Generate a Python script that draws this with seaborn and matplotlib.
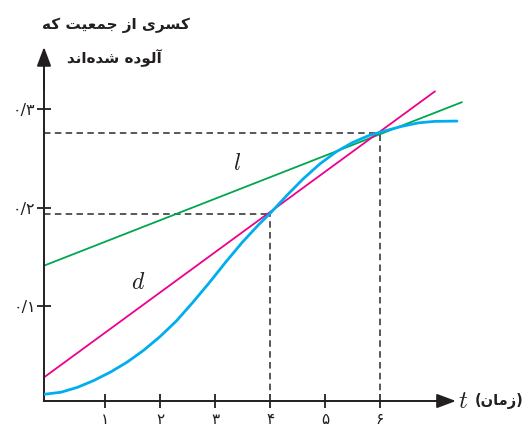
import matplotlib
matplotlib.use("Agg")
import matplotlib.pyplot as plt
import seaborn as sns
import pandas as pd
import numpy as np

# =====================================================
# DATA
# =====================================================
# blue curve: fraction of infected population over time
curve_t = [-0.11, 0.2, 0.5, 0.8, 1.1, 1.4, 1.7, 2.0, 2.3, 2.6, 2.9, 3.2, 3.5,
           3.8, 4.0, 4.3, 4.6, 4.9, 5.2, 5.5, 5.8, 6.1, 6.4, 6.7, 7.0, 7.4]
curve_v = [0.0104, 0.0125, 0.0175, 0.0245, 0.033, 0.043, 0.055, 0.069, 0.085,
           0.104, 0.124, 0.145, 0.165, 0.183, 0.194, 0.212, 0.229, 0.244,
           0.2565, 0.266, 0.2732, 0.278, 0.2825, 0.286, 0.2875, 0.2878]

# line d (pink) and line l (green), two end points each
d_t = [-0.11, 7.0]
d_v = [0.0276, 0.318]
l_t = [-0.11, 7.49]
l_v = [0.141, 0.307]

# guide points (dashed)
guide_t = [4, 6]
guide_v = [0.1934, 0.2756]

x_ticks = [1, 2, 3, 4, 5, 6]
x_ticklabels = ['۱', '۲', '۳', '۴', '۵', '۶']
y_ticks = [0.1, 0.2, 0.3]
y_ticklabels = ['۰/۱', '۰/۲', '۰/۳']

ylabel_lines = ['کسری از جمعیت که', 'آلوده شده\u200cاند']
xlabel_fa = '(زمان)'

# =====================================================
# minimal Persian shaping (matplotlib has no RTL / joining)
# =====================================================
FORMS = {
    'ا': ('\ufe8d', '\ufe8e', None, None),
    'آ': ('\ufe81', '\ufe82', None, None),
    'د': ('\ufea9', '\ufeaa', None, None),
    'ر': ('\ufead', '\ufeae', None, None),
    'ز': ('\ufeaf', '\ufeb0', None, None),
    'و': ('\ufeed', '\ufeee', None, None),
    'ت': ('\ufe95', '\ufe96', '\ufe97', '\ufe98'),
    'ج': ('\ufe9d', '\ufe9e', '\ufe9f', '\ufea0'),
    'س': ('\ufeb1', '\ufeb2', '\ufeb3', '\ufeb4'),
    'ش': ('\ufeb5', '\ufeb6', '\ufeb7', '\ufeb8'),
    'ع': ('\ufec9', '\ufeca', '\ufecb', '\ufecc'),
    'ل': ('\ufedd', '\ufede', '\ufedf', '\ufee0'),
    'م': ('\ufee1', '\ufee2', '\ufee3', '\ufee4'),
    'ن': ('\ufee5', '\ufee6', '\ufee7', '\ufee8'),
    'ه': ('\ufee9', '\ufeea', '\ufeeb', '\ufeec'),
    'ک': ('\ufb8e', '\ufb8f', '\ufb90', '\ufb91'),
    'ی': ('\ufbfc', '\ufbfd', '\ufbfe', '\ufbff'),
}


def shape_fa(text):
    text = text.replace('ك', 'ک').replace('ي', 'ی')
    out = []
    for i, ch in enumerate(text):
        if ch not in FORMS:
            if ch != '\u200c':
                out.append(ch)
            continue
        prev = text[i - 1] if i > 0 else ''
        nxt = text[i + 1] if i + 1 < len(text) else ''
        join_prev = prev in FORMS and FORMS[prev][2] is not None
        join_next = FORMS[ch][2] is not None and nxt in FORMS
        isol, fina, init, medi = FORMS[ch]
        if join_prev and join_next:
            out.append(medi)
        elif join_prev:
            out.append(fina)
        elif join_next:
            out.append(init)
        else:
            out.append(isol)
    vis = ''.join(reversed(out))
    return vis.translate(str.maketrans('()', ')('))


# =====================================================
# STYLE
# =====================================================
sns.set_theme(style='white')
plt.rcParams['font.family'] = ['DejaVu Sans']
plt.rcParams['mathtext.fontset'] = 'cm'

INK = '#231f20'
BLUE = '#00aeef'
PINK = '#ec008c'
GREEN = '#00a651'
DASH = '#4a4a4a'

W, H = 526, 428
fig = plt.figure(figsize=(W / 100, H / 100), dpi=100)
x0, x1 = -0.11, 7.6
y0, y1 = 0.0036, 0.363
ax = fig.add_axes([44 / W, (H - 401) / H, (468 - 44) / W, (401 - 47) / H])
ax.set_xlim(x0, x1)
ax.set_ylim(y0, y1)

# dashed guides
for gt, gv in zip(guide_t, guide_v):
    ax.plot([x0, gt], [gv, gv], color=DASH, lw=1.3, dashes=(3.6, 2.4), zorder=1)
    ax.plot([gt, gt], [y0, gv], color=DASH, lw=1.3, dashes=(3.6, 2.4), zorder=1)

# lines and curve
sns.lineplot(x=l_t, y=l_v, ax=ax, color=GREEN, lw=1.3, zorder=2)
sns.lineplot(x=d_t, y=d_v, ax=ax, color=PINK, lw=1.3, zorder=2)
sns.lineplot(data=pd.DataFrame({'t': curve_t, 'v': curve_v}), x='t', y='v',
             ax=ax, color=BLUE, lw=2.0, zorder=3)
ax.get_lines()[-1].set_solid_joinstyle('round')
ax.get_lines()[-1].set_solid_capstyle('round')

# labels on the lines
ax.text(3.4, 0.245, '$l$', fontsize=17, color=INK, ha='center', va='center')
ax.text(1.6, 0.124, '$d$', fontsize=17, color=INK, ha='center', va='center')

# axes
for s in ['top', 'right']:
    ax.spines[s].set_visible(False)
for s in ['left', 'bottom']:
    ax.spines[s].set_color(INK)
    ax.spines[s].set_linewidth(1.4)
ax.spines['bottom'].set_bounds(x0, 7.2)
ax.spines['left'].set_bounds(y0, 0.34)

ax.set_xticks(x_ticks)
ax.set_xticklabels(x_ticklabels, fontsize=11, color=INK)
ax.set_yticks(y_ticks)
ax.set_yticklabels(y_ticklabels, fontsize=11.5, color=INK)
ax.tick_params(axis='x', bottom=True, direction='inout', length=10, width=1.3,
               color=INK, pad=3)
ax.tick_params(axis='y', left=True, direction='inout', length=10, width=1.3,
               color=INK, pad=1)
ax.set_xlabel('')
ax.set_ylabel('')

arrow = dict(arrowstyle='-|>,head_length=0.64,head_width=0.24', color=INK,
             lw=1.4, mutation_scale=18, shrinkA=0, shrinkB=0)
ax.annotate('', xy=(7.38, y0), xytext=(7.0, y0), arrowprops=arrow,
            annotation_clip=False)
ax.annotate('', xy=(x0, y1), xytext=(x0, 0.32), arrowprops=arrow,
            annotation_clip=False)

# axis titles
fig.text(463 / W, 1 - 401 / H, '$t$', fontsize=18, color=INK,
         ha='center', va='center')
fig.text(499 / W, 1 - 401 / H, shape_fa(xlabel_fa), fontsize=10.5,
         fontweight='bold', color=INK, ha='center', va='center')
fig.text(116 / W, 1 - 25 / H, shape_fa(ylabel_lines[0]), fontsize=11,
         fontweight='bold', color=INK, ha='center', va='center')
fig.text(114 / W, 1 - 58 / H, shape_fa(ylabel_lines[1]), fontsize=11,
         fontweight='bold', color=INK, ha='center', va='center')

fig.savefig('out.png', dpi=100)
